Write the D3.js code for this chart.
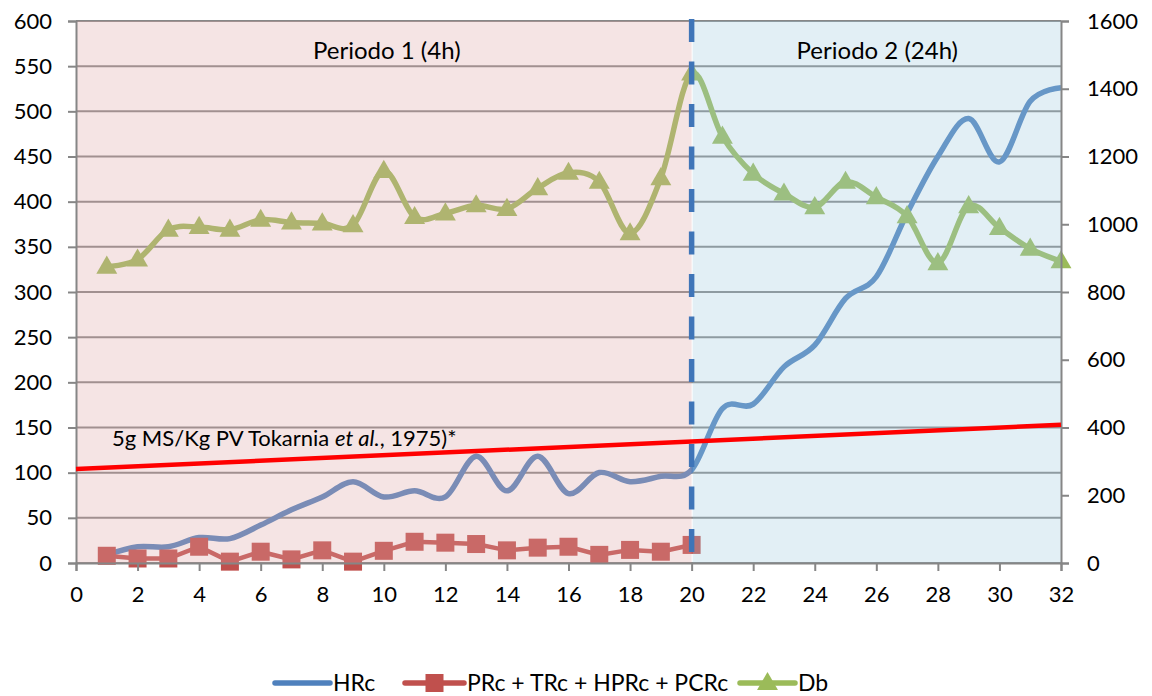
<!DOCTYPE html>
<html>
<head>
<meta charset="utf-8">
<style>
  body { margin: 0; background: #fff; }
  svg text { font-family: Lato, "Open Sans", sans-serif; fill: #000; }
</style>
</head>
<body>
<svg width="1152" height="696"></svg>
<script src="https://d3js.org/d3.v7.min.js"></script>
<script>
// hours of sampling
var hours = [1, 2, 3, 4, 5, 6, 7, 8, 9, 10, 11, 12, 13, 14, 15, 16,
             17, 18, 19, 20, 21, 22, 23, 24, 25, 26, 27, 28, 29, 30, 31, 32];
// HRc (right axis)
var hrc = [24, 48, 48, 75, 72, 112, 157, 195, 240, 195, 213, 195, 315, 213, 315, 205,
           267, 240, 256, 275, 456, 469, 579, 643, 781, 845, 1032, 1200, 1312, 1184, 1363, 1403];
// PRc + TRc + HPRc + PCRc (left axis, only period 1)
var prc = [8, 5, 5, 18, 1.5, 12.5, 4, 14, 1.5, 13.5, 23.5, 22.5, 21, 14, 17, 18, 9, 14.5, 12.5, 20];
// Db (left axis)
var db = [328, 336, 369, 372, 369, 380, 377, 376, 374, 434, 383, 387, 396, 392, 415, 432,
          422, 365, 426, 542, 472, 431, 409, 394, 422, 405, 384, 332, 395, 371, 348, 334];
// reference line 5g MS/Kg PV
var refX = [0, 32],
    refY = [104, 153];
var xTicks = [0, 2, 4, 6, 8, 10, 12, 14, 16, 18, 20, 22, 24, 26, 28, 30, 32];
var leftTicks = [0, 50, 100, 150, 200, 250, 300, 350, 400, 450, 500, 550, 600];
var rightTicks = [0, 200, 400, 600, 800, 1000, 1200, 1400, 1600];
var splitHour = 20;

var svg = d3.select("svg"),
    margin = {top: 21, right: 91, bottom: 133, left: 76},
    width = +svg.attr("width") - margin.left - margin.right,
    height = +svg.attr("height") - margin.top - margin.bottom;

var x = d3.scaleLinear().domain([0, 32]).range([0, width]),
    y = d3.scaleLinear().domain([0, 600]).range([height, 0]),
    y2 = d3.scaleLinear().domain([0, 1600]).range([height, 0]);

var g = svg.append("g")
    .attr("transform", "translate(" + margin.left + "," + margin.top + ")");

// gridlines
g.selectAll(".grid")
  .data(leftTicks)
  .enter().append("line")
    .attr("x1", 0).attr("x2", width)
    .attr("y1", function(d) { return y(d); })
    .attr("y2", function(d) { return y(d); })
    .attr("stroke", "#878787")
    .attr("stroke-width", 2);

var smooth = d3.line()
    .curve(d3.curveCardinal.tension(0))
    .x(function(d) { return x(d[0]); });

// HRc
g.append("path")
    .datum(hours.map(function(h, i) { return [h, hrc[i]]; }))
    .attr("fill", "none")
    .attr("stroke", "#4F81BD")
    .attr("stroke-width", 5.5)
    .attr("stroke-linejoin", "round")
    .attr("d", smooth.y(function(d) { return y2(d[1]); }));

// PRc + TRc + HPRc + PCRc
var prcData = prc.map(function(v, i) { return [hours[i], v]; });
g.append("path")
    .datum(prcData)
    .attr("fill", "none")
    .attr("stroke", "#C0504D")
    .attr("stroke-width", 4.5)
    .attr("d", d3.line()
      .x(function(d) { return x(d[0]); })
      .y(function(d) { return y(d[1]); }));
g.selectAll(".sq")
  .data(prcData)
  .enter().append("rect")
    .attr("x", function(d) { return x(d[0]) - 9; })
    .attr("y", function(d) { return y(d[1]) - 9; })
    .attr("width", 18).attr("height", 18)
    .attr("fill", "#C0504D");

// Db
var dbData = db.map(function(v, i) { return [hours[i], v]; });
g.append("path")
    .datum(dbData)
    .attr("fill", "none")
    .attr("stroke", "#9BBB59")
    .attr("stroke-width", 5.5)
    .attr("stroke-linejoin", "round")
    .attr("d", smooth.y(function(d) { return y(d[1]); }));
var tri = d3.symbol().type(d3.symbolTriangle).size(190);
g.selectAll(".tri")
  .data(dbData)
  .enter().append("path")
    .attr("transform", function(d) { return "translate(" + x(d[0]) + "," + (y(d[1]) + 1) + ")"; })
    .attr("d", tri)
    .attr("fill", "#9BBB59");

// period shading (sits over the series, like the original)
g.append("rect")
    .attr("x", 0).attr("y", 0)
    .attr("width", x(splitHour)).attr("height", height)
    .attr("fill", "#dea5a5").attr("opacity", 0.3);
g.append("rect")
    .attr("x", x(splitHour) + 1).attr("y", 0)
    .attr("width", width - x(splitHour) - 1).attr("height", height)
    .attr("fill", "#9ecade").attr("opacity", 0.3);

// axes
var axisColor = "#868686";
var xAxis = g.append("g")
    .attr("transform", "translate(0," + height + ")")
    .call(d3.axisBottom(x).tickValues(xTicks).tickSize(8).tickPadding(14));
var yAxis = g.append("g")
    .call(d3.axisLeft(y).tickValues(leftTicks).tickSize(8).tickPadding(16));
var yAxis2 = g.append("g")
    .attr("transform", "translate(" + width + ",0)")
    .call(d3.axisRight(y2).tickValues(rightTicks).tickFormat(d3.format("d"))
      .tickSize(8).tickPadding(18));
[xAxis, yAxis, yAxis2].forEach(function(a) {
  a.select(".domain").attr("stroke", axisColor).attr("stroke-width", 2);
  a.selectAll(".tick line").attr("stroke", axisColor).attr("stroke-width", 2);
  a.selectAll(".tick text").style("font-size", "22px").attr("fill", "#000");
});
xAxis.selectAll(".tick text").attr("dy", "0.75em");

// reference line
g.append("path")
    .datum(refX.map(function(v, i) { return [v, refY[i]]; }))
    .attr("fill", "none")
    .attr("stroke", "#FF0000")
    .attr("stroke-width", 4.5)
    .attr("d", d3.line()
      .x(function(d) { return x(d[0]); })
      .y(function(d) { return y(d[1]); }));

var refLabel = g.append("text")
    .attr("x", 36)
    .attr("y", 425)
    .style("font-size", "22px");
refLabel.append("tspan").text("5g MS/Kg PV Tokarnia ");
refLabel.append("tspan").style("font-style", "italic").text("et al.");
refLabel.append("tspan").text(", 1975)*");

// split line
g.append("line")
    .attr("x1", x(splitHour)).attr("x2", x(splitHour))
    .attr("y1", -2).attr("y2", height)
    .attr("stroke", "#3F75B8")
    .attr("stroke-width", 5.5)
    .attr("stroke-dasharray", "23,19.5");

// period labels
g.append("text")
    .attr("x", x(10) + 3)
    .attr("y", 38)
    .attr("text-anchor", "middle")
    .style("font-size", "24px")
    .text("Periodo 1 (4h)");
g.append("text")
    .attr("x", x(26) + 1)
    .attr("y", 38)
    .attr("text-anchor", "middle")
    .style("font-size", "24px")
    .text("Periodo 2 (24h)");

// legend
var legend = svg.append("g").attr("transform", "translate(0,683)");
var items = [
  {name: "HRc", color: "#4F81BD", x0: 275, x1: 330, marker: null},
  {name: "PRc + TRc + HPRc + PCRc", color: "#C0504D", x0: 405, x1: 464, marker: "square"},
  {name: "Db", color: "#9BBB59", x0: 740, x1: 795, marker: "triangle"}
];
items.forEach(function(it) {
  legend.append("line")
      .attr("x1", it.x0).attr("x2", it.x1)
      .attr("stroke", it.color)
      .attr("stroke-width", 5.5)
      .attr("stroke-linecap", "round");
  var mid = (it.x0 + it.x1) / 2;
  if (it.marker === "square") {
    legend.append("rect")
        .attr("x", mid - 9).attr("y", -9)
        .attr("width", 18).attr("height", 18)
        .attr("fill", it.color);
  } else if (it.marker === "triangle") {
    legend.append("path")
        .attr("transform", "translate(" + mid + ",1)")
        .attr("d", tri)
        .attr("fill", it.color);
  }
  legend.append("text")
      .attr("x", it.x1 + 3)
      .attr("dy", "0.35em")
      .style("font-size", "23px")
      .text(it.name);
});
</script>
</body>
</html>
